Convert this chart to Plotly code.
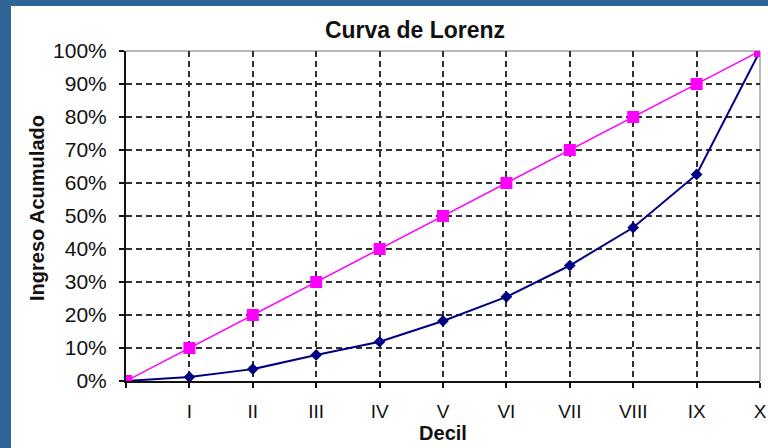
import plotly.graph_objects as go

deciles = ["", "I", "II", "III", "IV", "V", "VI", "VII", "VIII", "IX", "X"]
equality = [0.0, 0.10, 0.20, 0.30, 0.40, 0.50, 0.60, 0.70, 0.80, 0.90, 1.00]
lorenz = [0.0, 0.012, 0.036, 0.079, 0.119, 0.182, 0.255, 0.350, 0.465, 0.626, 1.00]
x_pos = list(range(len(deciles)))

FONT = "Liberation Sans, Arial, sans-serif"
BORDER = "#2f6497"

fig = go.Figure()
fig.add_trace(go.Scatter(
    x=x_pos, y=lorenz, mode="lines+markers", name="Lorenz",
    line=dict(color="#000080", width=2),
    marker=dict(symbol="diamond", size=9, color="#000080"),
))
fig.add_trace(go.Scatter(
    x=x_pos, y=equality, mode="lines+markers", name="Igualdad",
    line=dict(color="#ff00ff", width=1.5),
    marker=dict(symbol="square", size=12, color="#ff00ff"),
))

L, R, T, B = 126, 8, 51, 67
W, H = 768, 448
pw, ph = W - L - R, H - T - B

def px2x(p):
    return (p - L) / pw

def px2y(p):
    return (H - B - p) / ph

shapes = [
    dict(type="rect", xref="paper", yref="paper",
         x0=px2x(11), x1=px2x(W + 5), y0=px2y(H + 5), y1=px2y(6),
         fillcolor="white", line=dict(width=0), layer="below"),
    dict(type="line", xref="paper", yref="paper", x0=0, x1=1, y0=1, y1=1,
         line=dict(color="#a0a0a0", width=1.5), layer="below"),
    dict(type="line", xref="paper", yref="paper", x0=1, x1=1, y0=0, y1=1,
         line=dict(color="#a0a0a0", width=1.5), layer="below"),
]

fig.update_layout(
    width=W, height=H,
    margin=dict(l=L, r=R, t=T, b=B, autoexpand=False),
    paper_bgcolor=BORDER, plot_bgcolor="white",
    showlegend=False,
    shapes=shapes,
    font=dict(family=FONT, color="#111111", size=20),
    title=dict(text="<b>Curva de Lorenz</b>", x=px2x(415), xref="paper",
               xanchor="center", y=1 - 30 / H, yanchor="middle",
               font=dict(size=23, family=FONT, color="#111111")),
    annotations=[dict(
        text="<b>Ingreso Acumulado</b>", textangle=-90, showarrow=False,
        xref="paper", yref="paper", x=px2x(37), y=px2y(208),
        xanchor="center", yanchor="middle",
        font=dict(size=20, family=FONT, color="#111111"),
    )],
    xaxis=dict(
        range=[0, 10], tickmode="array", tickvals=x_pos, ticktext=deciles,
        showgrid=True, gridcolor="#303030", gridwidth=1.5, griddash="6px,4px",
        showline=True, linecolor="#111111", linewidth=2,
        ticks="outside", ticklen=5, tickwidth=2, tickcolor="#111111",
        ticklabelstandoff=7, zeroline=False, automargin=False,
        tickfont=dict(size=19),
        title=dict(text="<b>Decil</b>", standoff=0,
                   font=dict(size=20, family=FONT, color="#111111")),
    ),
    yaxis=dict(
        range=[0, 1], dtick=0.1, tickformat=".0%",
        showgrid=True, gridcolor="#303030", gridwidth=1.5, griddash="6px,4px",
        showline=True, linecolor="#111111", linewidth=2,
        ticks="outside", ticklen=5, tickwidth=2, tickcolor="#111111",
        ticklabelstandoff=8, zeroline=False, automargin=False,
        tickfont=dict(size=21),
    ),
)

fig.write_html(
    "out.html",
    config={"displayModeBar": False},
    post_script="document.body.style.margin='0px';document.body.style.overflow='hidden';",
)
